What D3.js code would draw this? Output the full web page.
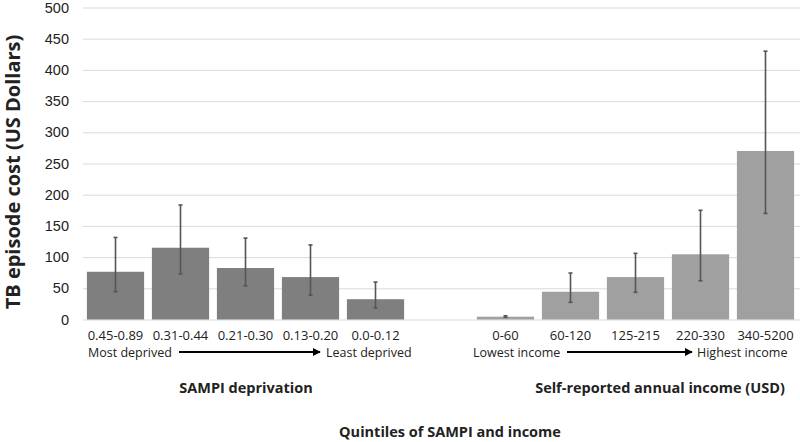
<!DOCTYPE html>
<html><head><meta charset="utf-8">
<script src="https://cdn.jsdelivr.net/npm/d3@7"></script>
<style>body{margin:0;background:#fff}svg{display:block}</style>
</head><body>
<svg id="c" width="800" height="442"></svg>
<script>
const sampiCats = ["0.45-0.89","0.31-0.44","0.21-0.30","0.13-0.20","0.0-0.12"];
const sampiCost = [76.5, 115, 82.5, 68, 32.5];
const sampiLow  = [44.5, 73, 54, 39, 18.5];
const sampiHigh = [131.5, 183.5, 130.5, 119.5, 60];
const incomeCats = ["0-60","60-120","125-215","220-330","340-5200"];
const incomeCost = [4.5, 44.5, 68, 104.5, 270];
const incomeLow  = [3.5, 27.5, 43.5, 62, 170];
const incomeHigh = [6, 74.5, 106, 175, 430];
const yTicks = [0,50,100,150,200,250,300,350,400,450,500];

const svg = d3.select("#c");
const mLeft = 83, mRight = 798, mTop = 7.5, mBottom = 319.5;
const slots = [...sampiCats.map(c=>"s:"+c), "gap", ...incomeCats.map(c=>"i:"+c)];
const x = d3.scaleBand().domain(slots).range([mLeft,mRight]).paddingInner(0.12).paddingOuter(0.06);
const y = d3.scaleLinear().domain([0,500]).range([mBottom,mTop]);

const yAxis = svg.append("g").attr("transform",`translate(${mLeft},0)`)
  .call(d3.axisLeft(y).tickValues(yTicks).tickSize(-(800-mLeft)).tickPadding(14));
yAxis.select(".domain").remove();
yAxis.selectAll(".tick line").attr("stroke","#d9d9d9").attr("stroke-width",1);
yAxis.selectAll(".tick text").attr("font-family","Liberation Sans, Arial, sans-serif").attr("font-size",14.5).attr("fill","#222");

const data = [
  ...sampiCats.map((c,i)=>({k:"s:"+c,label:c,v:sampiCost[i],lo:sampiLow[i],hi:sampiHigh[i],col:"#7f7f7f"})),
  ...incomeCats.map((c,i)=>({k:"i:"+c,label:c,v:incomeCost[i],lo:incomeLow[i],hi:incomeHigh[i],col:"#a0a0a0"}))
];

svg.append("g").selectAll("rect").data(data).join("rect")
  .attr("x",d=>x(d.k)).attr("width",x.bandwidth())
  .attr("y",d=>y(d.v)).attr("height",d=>y(0)-y(d.v)).attr("fill",d=>d.col);

const eb = svg.append("g").attr("stroke","#555").attr("stroke-width",1.6);
data.forEach(d=>{
  const cx = x(d.k)+x.bandwidth()/2;
  eb.append("line").attr("x1",cx).attr("x2",cx).attr("y1",y(d.hi)).attr("y2",y(d.lo));
  eb.append("line").attr("x1",cx-2).attr("x2",cx+2).attr("y1",y(d.hi)).attr("y2",y(d.hi));
  eb.append("line").attr("x1",cx-2).attr("x2",cx+2).attr("y1",y(d.lo)).attr("y2",y(d.lo));
});

const font = "Open Sans, sans-serif";
svg.append("g").selectAll("text").data(data).join("text")
  .attr("x",d=>x(d.k)+x.bandwidth()/2).attr("y",340)
  .attr("text-anchor","middle").attr("font-family",font).attr("font-size",13).attr("fill","#222")
  .text(d=>d.label);

svg.append("defs").append("marker").attr("id","ah").attr("viewBox","0 0 10 10")
  .attr("refX",9).attr("refY",5).attr("markerWidth",4).attr("markerHeight",4).attr("orient","auto")
  .append("path").attr("d","M0,0L10,5L0,10z").attr("fill","#000");
function annot(t1,t2,x1,a1,a2,x2){
  svg.append("text").attr("x",x1).attr("y",357).attr("font-family",font).attr("font-size",12.5).attr("fill","#222").text(t1);
  svg.append("line").attr("x1",a1).attr("x2",a2).attr("y1",352).attr("y2",352)
    .attr("stroke","#000").attr("stroke-width",2).attr("marker-end","url(#ah)");
  svg.append("text").attr("x",x2).attr("y",357).attr("font-family",font).attr("font-size",12.5).attr("fill","#222").text(t2);
}
annot("Most deprived","Least deprived",88,179,320,326);
annot("Lowest income","Highest income",473,567,692,697);

svg.append("text").attr("x",246).attr("y",393).attr("text-anchor","middle")
  .attr("font-family",font).attr("font-weight","bold").attr("font-size",14.5).attr("fill","#222").text("SAMPI deprivation");
svg.append("text").attr("x",660).attr("y",393).attr("text-anchor","middle")
  .attr("font-family",font).attr("font-weight","bold").attr("font-size",14.5).attr("fill","#222").text("Self-reported annual income (USD)");
svg.append("text").attr("x",450).attr("y",437).attr("text-anchor","middle")
  .attr("font-family",font).attr("font-weight","bold").attr("font-size",14.5).attr("fill","#222").text("Quintiles of SAMPI and income");
svg.append("text").attr("transform","translate(20,172) rotate(-90)").attr("text-anchor","middle")
  .attr("font-family",font).attr("font-weight","bold").attr("font-size",20).attr("fill","#222").text("TB episode cost (US Dollars)");
</script>
</body></html>
